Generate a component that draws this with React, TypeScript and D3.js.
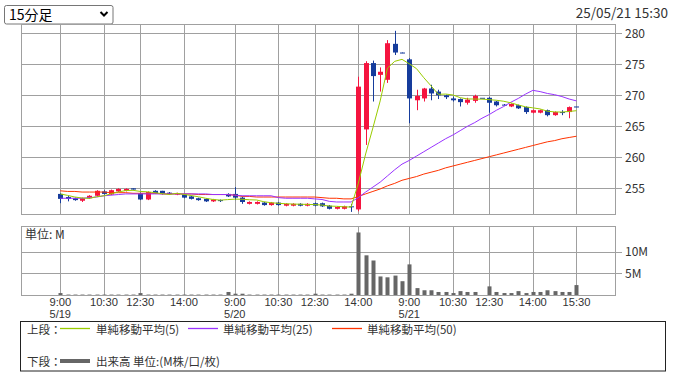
import React from "react";
import * as d3 from "d3";

const dates = ["5/19", "5/20", "5/21"];
const slotTimes = ["9:00","9:15","9:30","9:45","10:00","10:15","10:30","10:45","11:00","11:15","11:30","12:30","12:45","13:00","13:15","13:30","13:45","14:00","14:15","14:30","14:45","15:00","15:15","15:30"];
const dayAxisTimes = [
  ["9:00", "10:30", "12:30", "14:00"],
  ["9:00", "10:30", "12:30", "14:00"],
  ["9:00", "10:30", "12:30", "14:00", "15:30"],
];
const priceTicks = [255, 260, 265, 270, 275, 280];
const volumeTicks = [5, 10];
const priorCloses = [254.5, 254.4, 254.2, 254.1];

const opens = [
  254.1,253.6,253.4,253.0,253.4,253.8,254.5,254.0,254.5,254.6,255.0,254.2,253.2,254.6,254.6,254.3,254.0,254.0,253.7,253.4,253.3,252.9,253.1,254.1,
  254.1,253.5,252.5,252.5,252.7,252.3,252.7,252.2,252.2,252.5,252.2,252.6,252.6,252.2,251.7,251.7,252.1,251.6,264.5,275.2,273.3,272.5,278.3,276.9,
  275.8,269.2,269.5,271.1,270.6,270.0,269.5,269.4,268.8,269.1,269.6,269.6,269.0,268.5,268.2,268.4,268.1,267.2,267.2,267.6,266.8,267.3,267.3,268.2,
];
const highs = [
  254.2,253.8,253.5,253.5,253.9,254.7,254.7,254.8,255.0,255.0,255.0,254.3,254.5,254.7,254.6,254.4,254.3,254.1,253.8,253.5,253.4,253.3,253.2,254.2,
  255.2,253.6,252.9,252.9,252.8,252.8,252.8,252.6,252.6,252.6,252.6,252.7,252.7,252.3,252.1,252.2,252.5,273.0,275.5,275.6,274.5,278.9,280.4,276.9,
  276.0,270.9,271.2,271.7,270.9,270.1,269.8,269.5,269.6,270.1,269.6,269.7,269.1,268.6,268.7,268.5,268.2,267.7,267.7,267.7,267.4,267.6,268.2,268.2,
];
const lows = [
  252.6,252.9,253.0,252.8,253.3,253.7,254.0,253.9,254.4,254.5,254.8,253.1,253.1,254.1,254.0,254.0,253.9,253.4,253.2,253.0,252.8,252.8,252.8,253.6,
  253.1,252.5,252.4,252.4,252.2,252.2,252.2,252.1,252.1,252.1,252.1,252.1,252.0,251.6,251.6,251.6,251.2,251.3,262.0,269.0,270.6,272.0,276.5,276.8,
  265.5,267.6,269.0,269.2,269.4,269.4,269.0,268.2,268.5,268.8,269.6,267.2,268.2,268.4,268.1,267.8,267.0,267.1,267.1,266.6,266.7,266.8,266.3,268.2,
];
const closes = [
  253.3,253.3,253.1,253.4,253.8,254.6,254.1,254.7,254.9,254.9,254.8,253.2,254.4,254.2,254.1,254.1,254.2,253.5,253.3,253.1,252.9,253.2,253.0,253.7,
  253.5,252.8,252.8,252.8,252.3,252.7,252.3,252.5,252.5,252.2,252.5,252.2,252.1,251.7,252.0,252.1,252.0,271.4,275.2,273.1,273.8,278.4,276.9,276.8,
  269.5,269.9,271.1,270.3,270.0,269.7,269.2,268.9,269.3,269.9,269.6,268.8,268.4,268.5,268.6,267.9,267.3,267.6,267.6,266.8,267.3,267.2,268.1,268.2,
];
const volumes = [
  0.45,0.1,0.1,0.1,0.1,0.1,0.1,0.1,0.1,0.1,0.1,0.45,0.1,0.1,0.1,0.1,0.1,0.1,0.1,0.1,0.1,0.1,0.1,0.7,
  0.3,0.3,0.1,0.1,0.1,0.1,0.1,0.1,0.1,0.1,0.1,0.3,0.1,0.1,0.1,0.1,0.3,14.5,9.2,8.0,4.3,4.1,4.5,3.2,
  7.1,1.6,1.1,1.1,0.7,0.7,0.45,0.9,0.7,0.7,0,2.0,0.7,0.45,0.45,0.9,0.45,0.7,0.7,1.1,0.9,0.7,0.7,2.3,
];
const ma25 = [
  253.4,253.4,253.4,253.4,253.5,253.6,253.8,253.9,254.0,254.1,254.1,254.1,254.1,254.1,254.1,254.1,254.1,254.1,254.1,254.1,254.1,254.0,254.0,254.0,
  253.9,253.8,253.8,253.8,253.8,253.8,253.5,253.4,253.4,253.4,253.4,253.3,253.2,252.9,252.8,252.8,252.8,253.5,254.4,255.2,256.0,257.0,258.0,258.9,
  259.5,260.2,260.9,261.6,262.3,263.0,263.6,264.3,265.0,265.6,266.3,266.9,267.6,268.2,268.9,269.5,270.2,270.8,270.6,270.3,270.1,269.8,269.4,269.1,
];
const ma50 = [
  254.6,254.5,254.5,254.4,254.4,254.4,254.4,254.3,254.3,254.3,254.2,254.2,254.2,254.2,254.1,254.1,254.1,254.1,254.1,254.0,254.0,254.0,254.0,254.0,
  253.9,253.7,253.7,253.6,253.6,253.6,253.6,253.6,253.6,253.6,253.6,253.6,253.5,253.4,253.4,253.3,253.3,253.7,254.1,254.5,254.9,255.4,255.8,256.3,
  256.6,256.9,257.3,257.6,257.9,258.3,258.6,258.9,259.2,259.5,259.8,260.1,260.4,260.7,261.0,261.3,261.6,261.9,262.2,262.5,262.7,263.0,263.2,263.4,
];

const W = 673, H = 377;
const PL = 21, PR = 616;
const MAIN_T = 24, MAIN_B = 215;
const VOL_T = 226, VOL_B = 295;
const RED = "#f5143f", BLUE = "#163c9c";
const GRID = "#a0a0a0";
const FONT = "'Noto Sans CJK JP', 'Noto Sans', sans-serif";
const AXIS_FONT = "'Liberation Sans', Arial, sans-serif";

export default function App() {
  const n = closes.length;
  const idx = d3.range(n);
  const x = d3.scaleLinear().domain([(PL - 60.3) / 7.27, (PR - 60.3) / 7.27]).range([PL, PR]);
  const y = d3.scaleLinear().domain([250.7, 281.5]).range([MAIN_B, MAIN_T]);
  const yv = d3.scaleLinear().domain([0, 16]).range([VOL_B, VOL_T]);

  const allCloses = priorCloses.concat(closes);
  const ma5 = idx.map((i) => d3.mean(allCloses.slice(i, i + 5)) as number);

  const line = (vals: number[]) =>
    d3.line<number>().x((_, i) => x(i)).y((v) => y(v))(vals) || "";

  const perDay = slotTimes.length;
  const axisLabels: { t: string; i: number }[] = [];
  dayAxisTimes.forEach((times, d) => {
    times.forEach((t) => axisLabels.push({ t, i: d * perDay + slotTimes.indexOf(t) }));
  });

  return (
    <svg width={W} height={H} style={{ position: "absolute", left: 0, top: 0, background: "#fff" }} fontFamily={FONT}>
      <rect x={0} y={0} width={W} height={H} fill="#fff" />
      {/* dropdown */}
      <rect x={4.5} y={5.5} width={108.5} height={18.5} rx={2} fill="#fff" stroke="#767676" />
      <text x={9} y={20} fontSize={14} fill="#000">15分足</text>
      <path d="M100.5,12 L104,15.5 L107.5,12" stroke="#000" strokeWidth={2} fill="none" />
      <text x={668} y={18} fontSize={13.5} fill="#333" textAnchor="end">25/05/21 15:30</text>

      {/* main panel grid */}
      <rect x={PL + 0.5} y={MAIN_T + 0.5} width={PR - PL - 1} height={MAIN_B - MAIN_T - 1} fill="#fff" stroke={GRID} />
      {priceTicks.map((p) => (
        <g key={p}>
          <line x1={PL} x2={PR + 6} y1={Math.round(y(p)) + 0.5} y2={Math.round(y(p)) + 0.5} stroke={GRID} />
          <text x={PR + 9} y={y(p)} dy="0.35em" fontSize={12} fill="#333">{p}</text>
        </g>
      ))}
      <rect x={PL + 0.5} y={VOL_T + 0.5} width={PR - PL - 1} height={VOL_B - VOL_T} fill="#fff" stroke={GRID} />
      {volumeTicks.map((v) => (
        <g key={v}>
          <line x1={PL} x2={PR + 6} y1={Math.round(yv(v)) + 0.5} y2={Math.round(yv(v)) + 0.5} stroke={GRID} />
          <text x={PR + 9} y={yv(v)} dy="0.35em" fontSize={12} fill="#333">{v}M</text>
        </g>
      ))}
      {axisLabels.map((a, k) => (
        <g key={k}>
          <line x1={Math.round(x(a.i)) + 0.5} x2={Math.round(x(a.i)) + 0.5} y1={MAIN_T} y2={MAIN_B} stroke={GRID} />
          <line x1={Math.round(x(a.i)) + 0.5} x2={Math.round(x(a.i)) + 0.5} y1={VOL_T} y2={VOL_B + 1} stroke={GRID} />
          <text x={x(a.i)} y={305.5} fontSize={11.2} fontFamily={AXIS_FONT} fill="#333" textAnchor="middle">{a.t}</text>
        </g>
      ))}
      {dates.map((d, k) => (
        <text key={d} x={x(k * perDay)} y={318} fontSize={11} fontFamily={AXIS_FONT} fill="#333" textAnchor="middle">{d}</text>
      ))}
      <text x={25} y={238.5} fontSize={12} fill="#333">単位: M</text>

      {/* candles */}
      {idx.map((i) => {
        const up = closes[i] > opens[i];
        const col = up ? RED : BLUE;
        const top = y(Math.max(opens[i], closes[i]));
        const bot = y(Math.min(opens[i], closes[i]));
        const cx = Math.round(x(i));
        return (
          <g key={i}>
            <line x1={cx + 0.5} x2={cx + 0.5} y1={y(highs[i])} y2={y(lows[i])} stroke={col} />
            <rect x={cx - 2} y={top} width={5} height={Math.max(1, bot - top)} fill={col} />
          </g>
        );
      })}
      <path d={line(ma50)} fill="none" stroke="#ff3300" strokeWidth={1} />
      <path d={line(ma25)} fill="none" stroke="#9933ff" strokeWidth={1} />
      <path d={line(ma5)} fill="none" stroke="#99cc00" strokeWidth={1} />

      {/* volume */}
      {idx.map((i) => (
        <rect key={i} x={Math.round(x(i)) - 1.5} y={yv(volumes[i])} width={4} height={VOL_B - yv(volumes[i])} fill="#666" />
      ))}

      {/* legend */}
      <rect x={20.5} y={321.5} width={645} height={49.5} fill="#fff" stroke="#222" />
      <text x={27} y={334} fontSize={11.5} fill="#333">上段：</text>
      <line x1={60} x2={90} y1={328.5} y2={328.5} stroke="#99cc00" strokeWidth={1.3} />
      <text x={96} y={334} fontSize={11.5} fill="#333">単純移動平均(5)</text>
      <line x1={188} x2={218} y1={328.5} y2={328.5} stroke="#9933ff" strokeWidth={1.3} />
      <text x={223} y={334} fontSize={11.5} fill="#333">単純移動平均(25)</text>
      <line x1={332} x2={362} y1={328.5} y2={328.5} stroke="#ff3300" strokeWidth={1.3} />
      <text x={367} y={334} fontSize={11.5} fill="#333">単純移動平均(50)</text>
      <text x={27} y={365.5} fontSize={11.5} fill="#333">下段：</text>
      <line x1={60} x2={90} y1={361} y2={361} stroke="#666" strokeWidth={4} />
      <text x={96} y={365.5} fontSize={11.5} fill="#333">出来高 単位:(M株/口/枚)</text>
    </svg>
  );
}
